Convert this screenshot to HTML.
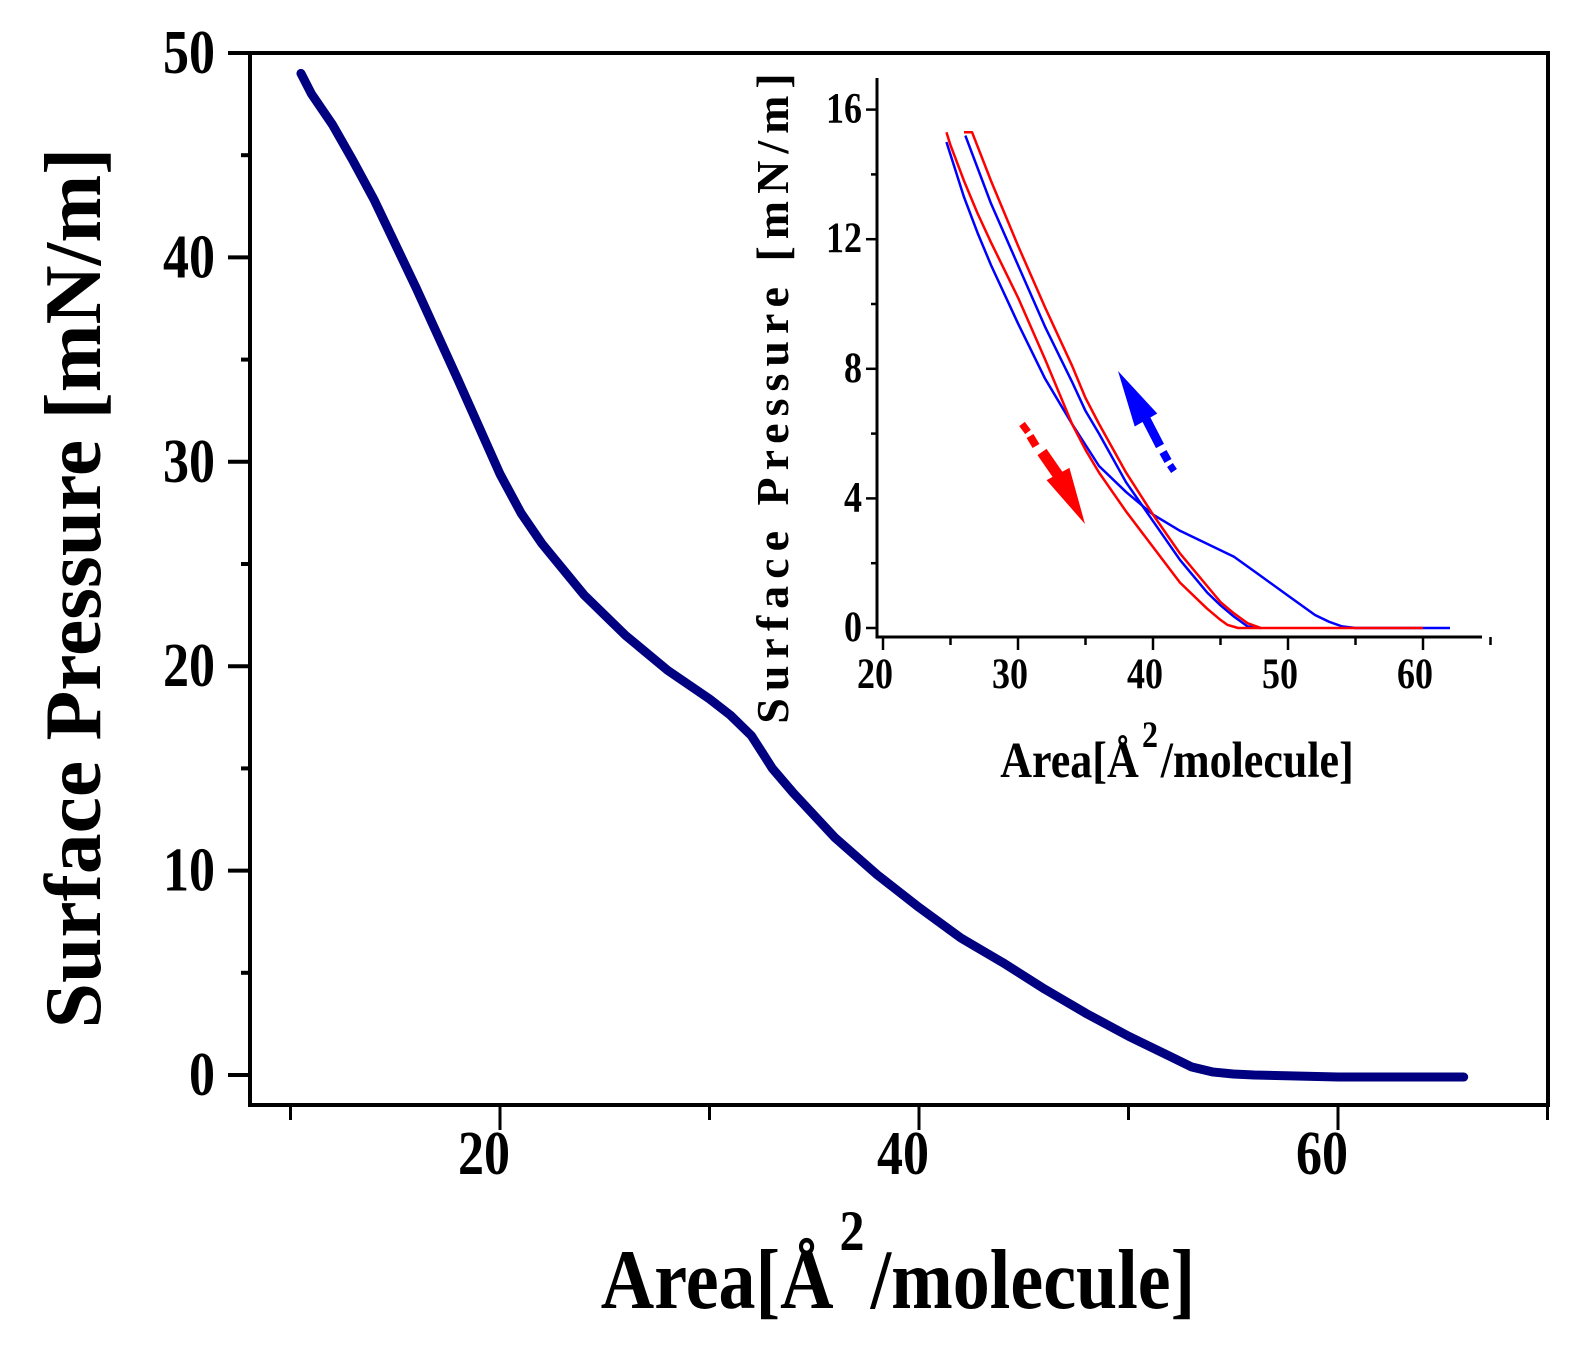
<!DOCTYPE html>
<html><head><meta charset="utf-8"><style>
body{margin:0;background:#fff;}
svg text{font-family:"Liberation Serif",serif;font-weight:bold;fill:#000;}
</style></head><body>
<svg id="chart" width="1578" height="1360" viewBox="0 0 1578 1360" xmlns="http://www.w3.org/2000/svg">
<g id="main"></g>
<g id="inset"></g>
</svg>
<script>
// Main isotherm data
const mainArea = [10.5,11,12,13,14,16,18,20,21,22,24,26,28,30,31,32,33,34,36,38,40,42,44,46,48,50,52,53,54,55,56,60,66];
const mainPressure = [49,48,46.5,44.7,42.8,38.5,34,29.4,27.5,26,23.5,21.5,19.8,18.4,17.6,16.6,15,13.8,11.6,9.8,8.2,6.7,5.5,4.2,3,1.9,0.9,0.4,0.15,0.05,0,-0.1,-0.1];
const mainXTicks = [20,40,60];
const mainYTicks = [0,10,20,30,40,50];
// Inset hysteresis data
const redOuterX = [26,26.6,28,30,32,34,35,36,38,40,42,44,45,46,47,48,60];
const redOuterY = [15.3,15.3,13.8,11.8,9.9,8.1,7.1,6.3,4.8,3.5,2.3,1.3,0.8,0.45,0.15,0,0];
const blueInnerX = [26.1,28,30,32,34,35,36,38,40,42,44,45,46,47,48];
const blueInnerY = [15.2,13.1,11.2,9.3,7.6,6.7,6,4.5,3.3,2.1,1.1,0.7,0.35,0.05,0];
const redInnerX = [24.7,25,26,27,28,30,32,33,34,35,36,38,40,42,44,45,45.5,46.3,48];
const redInnerY = [15.3,14.9,13.8,12.8,11.9,10.2,8.3,7.3,6.3,5.5,4.8,3.6,2.5,1.4,0.6,0.25,0.1,0,0];
const blueOuterX = [24.7,26,27,28,30,32,33,34,36,38,40,42,44,46,48,50,52,53,54,55,62];
const blueOuterY = [15,13.3,12.2,11.2,9.4,7.7,7,6.3,5,4.2,3.5,3,2.6,2.2,1.6,1,0.4,0.2,0.05,0,0];
const insetXTicks = [20,30,40,50,60];
const insetYTicks = [0,4,8,12,16];

const NS="http://www.w3.org/2000/svg";
function mk(parent,tag,attrs,txt){const e=document.createElementNS(NS,tag);for(const k in attrs)e.setAttribute(k,attrs[k]);if(txt!==undefined)e.textContent=txt;parent.appendChild(e);return e;}
function tx(parent,x,y,size,anchor,str,sx,sy,rot){
  let tr='translate('+x+','+y+')'+(rot?' rotate('+rot+')':'')+' scale('+sx+','+sy+')';
  return mk(parent,'text',{x:0,y:0,'font-size':size,'text-anchor':anchor,transform:tr},str);
}

// main axes
const mx=v=>500+(v-20)*20.95;
const my=v=>1075-v*20.44;
const gm=document.getElementById('main');
let f=mk(gm,'rect',{x:250,y:53,width:1298,height:1052,fill:'none',stroke:'#000','stroke-width':4});


for(let v=10;v<=70;v+=10){
  const t=mk(gm,'line',{x1:mx(v),x2:mx(v),y1:1105,y2:v%20===0?1130:1120,stroke:'#000','stroke-width':3});
  
  
}
mainXTicks.forEach(v=>{
  const t=tx(gm,mx(v)-16,1174,52,'middle',String(v),1,1.2);
  
  
});
for(let v=0;v<=50;v+=5){
  const t=mk(gm,'line',{x1:v%10===0?228:241,x2:250,y1:my(v),y2:my(v),stroke:'#000','stroke-width':4});
  
  
}
mainYTicks.forEach(v=>{
  const t=tx(gm,215,my(v)+20,52,'end',String(v),1,1.2);
  
  
});
let pts=mainArea.map((a,i)=>mx(a)+','+my(mainPressure[i])).join(' ');
let c=mk(gm,'polyline',{points:pts,fill:'none',stroke:'#000080','stroke-width':9,'stroke-linecap':'round','stroke-linejoin':'round'});


let xt=tx(gm,898,1308,74,'middle','Area[Å\u00A0\u00A0/molecule]',1,1.15);


let sup=tx(gm,852,1250,50,'middle','2',1,1.15);


let yt=tx(gm,100,588,80,'middle','Surface Pressure [mN/m]',1.02,1.0,-90);



// inset
const ix=v=>883+(v-20)*13.5;
const iy=v=>628-v*32.4;
const gi=document.getElementById('inset');
let ax=mk(gi,'path',{d:'M877 78 L877 637 L1482 637',fill:'none',stroke:'#000','stroke-width':3});


for(let v=20;v<=65;v+=5){
  const t=mk(gi,'line',{x1:ix(v),x2:ix(v),y1:637,y2:v%10===0?650:645,stroke:'#000','stroke-width':2.5});
  
  
}
insetXTicks.forEach(v=>{
  const t=tx(gi,ix(v)-8,688,36,'middle',String(v),1,1.2);
  
  
});
for(let v=0;v<=16;v+=2){
  const t=mk(gi,'line',{x1:v%4===0?866:871,x2:877,y1:iy(v),y2:iy(v),stroke:'#000','stroke-width':2.5});
  
  
}
insetYTicks.forEach(v=>{
  const t=tx(gi,862,iy(v)+13,36,'end',String(v),1,1.2);
  
  
});
function series(xs,ys,color,name){
  const p=xs.map((a,i)=>ix(a)+','+iy(ys[i])).join(' ');
  const e=mk(gi,'polyline',{points:p,fill:'none',stroke:color,'stroke-width':2.5,'stroke-linejoin':'round'});
  
  
}
series(blueOuterX,blueOuterY,'#0000ff','blue-outer-curve');
series(blueInnerX,blueInnerY,'#0000ff','blue-inner-curve');
series(redInnerX,redInnerY,'#ff0000','red-inner-curve');
series(redOuterX,redOuterY,'#ff0000','red-outer-curve');
// arrows
function arrowHead(g,tx_,ty,bx,by,hw,color){
  const dx=tx_-bx,dy=ty-by,L=Math.hypot(dx,dy),nx=-dy/L*hw,ny=dx/L*hw;
  mk(g,'polygon',{points:(bx+nx)+','+(by+ny)+' '+tx_+','+ty+' '+(bx-nx)+','+(by-ny),fill:color});
}
let ra=mk(gi,'g',{});


mk(ra,'line',{x1:1022,y1:424,x2:1028,y2:432,stroke:'#ff0000','stroke-width':7});
mk(ra,'line',{x1:1030,y1:436,x2:1036,y2:446,stroke:'#ff0000','stroke-width':8});
mk(ra,'line',{x1:1042,y1:452,x2:1060,y2:478,stroke:'#ff0000','stroke-width':11});
arrowHead(ra,1085,524,1058,474,13,'#ff0000');
let ba=mk(gi,'g',{});


arrowHead(ba,1118,371,1146,420,13,'#0000ff');
mk(ba,'line',{x1:1144,y1:415,x2:1160,y2:446,stroke:'#0000ff','stroke-width':9});
mk(ba,'line',{x1:1163,y1:452,x2:1168,y2:461,stroke:'#0000ff','stroke-width':8});
mk(ba,'line',{x1:1170,y1:465,x2:1174,y2:471,stroke:'#0000ff','stroke-width':7});
let ixt=tx(gi,1177,777,44,'middle','Area[Å\u00A0\u00A0/molecule]',1,1.15);


let isup=tx(gi,1150,747,32,'middle','2',1,1.15);


let iyt=tx(gi,788,395,46,'middle','Surface Pressure [mN/m]',1,1,-90);
iyt.setAttribute('letter-spacing','7');


</script>
</body></html>
